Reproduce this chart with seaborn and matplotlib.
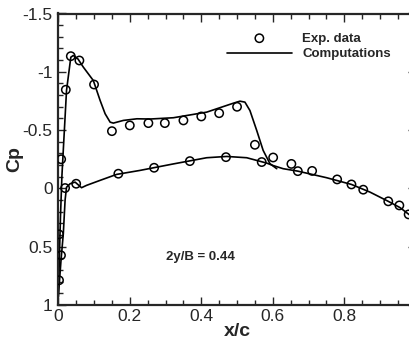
import seaborn as sns
import matplotlib.pyplot as plt
import pandas as pd
from matplotlib.ticker import MultipleLocator, FuncFormatter

# Experimental Cp data (upper + lower surface)
exp_x = [0.002, 0.0075, 0.002, 0.008, 0.021, 0.035, 0.059, 0.100, 0.150, 0.200,
         0.252, 0.298, 0.350, 0.400, 0.450, 0.500, 0.550, 0.601, 0.652, 0.710,
         0.780, 0.820, 0.853, 0.923, 0.954, 0.980,
         0.019, 0.050, 0.168, 0.268, 0.368, 0.469, 0.569, 0.670]
exp_cp = [0.788, 0.574, 0.394, -0.250, -0.846, -1.134, -1.097, -0.891, -0.491, -0.540,
          -0.560, -0.560, -0.583, -0.617, -0.645, -0.700, -0.374, -0.265, -0.210, -0.150,
          -0.077, -0.034, 0.011, 0.111, 0.146, 0.223,
          -0.003, -0.040, -0.126, -0.177, -0.234, -0.268, -0.226, -0.148]

# Computations, upper surface
up_x = [0.000, 0.003, 0.006, 0.010, 0.014, 0.023, 0.035, 0.042, 0.055, 0.070,
        0.098, 0.117, 0.131, 0.145, 0.154, 0.182, 0.220, 0.257, 0.322, 0.415,
        0.490, 0.508, 0.522, 0.536, 0.555, 0.573, 0.592, 0.611]
up_cp = [0.930, 0.600, 0.250, -0.100, -0.330, -0.840, -1.125, -1.140, -1.110, -1.040,
         -0.925, -0.754, -0.640, -0.568, -0.560, -0.583, -0.597, -0.595, -0.606, -0.654,
         -0.731, -0.748, -0.740, -0.668, -0.497, -0.326, -0.212, -0.169]

# Computations, lower surface
lo_x = [0.000, 0.008, 0.014, 0.019, 0.023, 0.033, 0.047, 0.065, 0.079, 0.117,
        0.163, 0.228, 0.322, 0.415, 0.471, 0.527, 0.583, 0.600, 0.629, 0.670,
        0.750, 0.820, 0.872, 0.923, 0.956, 0.984]
lo_cp = [0.930, 0.600, 0.390, 0.100, -0.010, -0.040, -0.054, -0.006, -0.026, -0.069,
         -0.120, -0.154, -0.210, -0.263, -0.274, -0.263, -0.217, -0.197, -0.169, -0.148,
         -0.092, -0.034, 0.032, 0.111, 0.165, 0.231]

df_exp = pd.DataFrame({'x': exp_x, 'Cp': exp_cp})
df_up = pd.DataFrame({'x': up_x, 'Cp': up_cp})
df_lo = pd.DataFrame({'x': lo_x, 'Cp': lo_cp})

sns.set_style("ticks")
plt.rcParams['font.family'] = ['Liberation Sans', 'DejaVu Sans']
plt.rcParams['axes.unicode_minus'] = False

fig = plt.figure(figsize=(4.1, 3.4), dpi=100)
ax = fig.add_axes([58.3 / 410, 35 / 340, 357.5 / 410, 291.5 / 340])

sns.lineplot(data=df_up, x='x', y='Cp', sort=False, estimator=None, color='black',
             linewidth=1.2, label='Computations', ax=ax)
sns.lineplot(data=df_lo, x='x', y='Cp', sort=False, estimator=None, color='black',
             linewidth=1.2, ax=ax)
sns.scatterplot(data=df_exp, x='x', y='Cp', marker='o', s=36, facecolor='none',
                edgecolor='black', linewidth=1.1, label='Exp. data', zorder=3, ax=ax)

ax.set_xlim(0, 1)
ax.set_ylim(1, -1.5)
ax.xaxis.set_major_locator(MultipleLocator(0.2))
ax.xaxis.set_minor_locator(MultipleLocator(0.05))
ax.yaxis.set_major_locator(MultipleLocator(0.5))
ax.yaxis.set_minor_locator(MultipleLocator(0.1))
ax.xaxis.set_major_formatter(FuncFormatter(lambda v, p: '' if v > 0.99 else f'{v:g}'))
ax.yaxis.set_major_formatter(FuncFormatter(lambda v, p: f'{v:g}'))

ax.tick_params(which='both', direction='in', top=True, right=True, width=1, labelsize=12.5)
ax.tick_params(which='major', length=6)
ax.tick_params(which='minor', length=3.5)
ax.tick_params(axis='y', pad=4)
ax.tick_params(axis='x', pad=3)
for sp in ax.spines.values():
    sp.set_linewidth(1.6)

ax.set_xlabel('x/c', fontsize=14, fontweight='bold', labelpad=-1)
ax.set_ylabel('Cp', fontsize=14, fontweight='bold')
ax.yaxis.set_label_coords(-0.098, 0.5)

handles, labels = ax.get_legend_handles_labels()
order = [labels.index('Exp. data'), labels.index('Computations')]
ax.legend([handles[i] for i in order], [labels[i] for i in order],
          loc='upper left', bbox_to_anchor=(0.472, 0.935), frameon=False,
          prop={'weight': 'bold', 'size': 9.5}, handlelength=4.9, handletextpad=0.8,
          labelspacing=0.25, borderpad=0, borderaxespad=0)

ax.text(0.301, 0.589, '2y/B = 0.44', fontsize=9.5, fontweight='bold', ha='left', va='center')

fig.savefig('out.png', dpi=100)
